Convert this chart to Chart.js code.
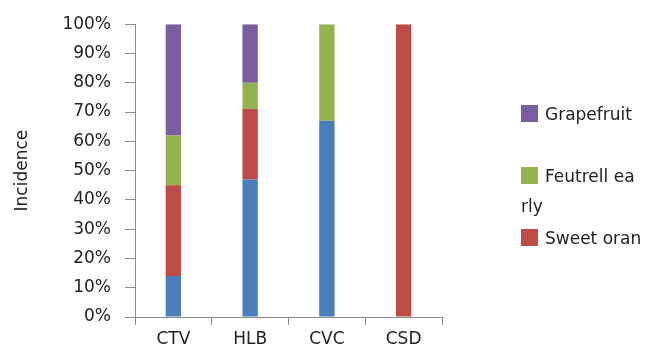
<!DOCTYPE html>
<html>
<head>
<meta charset="utf-8">
<script src="https://cdn.jsdelivr.net/npm/chart.js@4"></script>
<style>
  html, body { margin: 0; padding: 0; background: #fff; overflow: hidden; }
  #wrap { position: relative; width: 662px; height: 354px; }
  .leg { position: absolute; left: 521px; font: 17px "DejaVu Sans", sans-serif; color: #222; line-height: 30px; white-space: nowrap; }
  .leg i { display: inline-block; width: 17px; height: 17px; vertical-align: -2px; margin-right: 7px; }
</style>
</head>
<body>
<div id="wrap">
  <canvas id="chart" width="662" height="354"></canvas>
  <div id="legend"></div>
</div>
<script>
// 病害類別
const categories = ['CTV', 'HLB', 'CVC', 'CSD'];
// 各品種比例 (%)
const blueValues = [14, 47, 67, 0];
const sweetOrangeValues = [31, 24, 0, 100];
const feutrellValues = [17, 9, 33, 0];
const grapefruitValues = [38, 20, 0, 0];
const yTicks = ['0%', '10%', '20%', '30%', '40%', '50%', '60%', '70%', '80%', '90%', '100%'];

const datasets = [
    { label: 'Mandarin', data: blueValues, backgroundColor: '#4a7ebb' },
    { label: 'Sweet oran', data: sweetOrangeValues, backgroundColor: '#be4b48' },
    { label: 'Feutrell early', data: feutrellValues, backgroundColor: '#93b34f' },
    { label: 'Grapefruit', data: grapefruitValues, backgroundColor: '#7a5ca0' }
];

const font = { family: '"DejaVu Sans", sans-serif', size: 17 };

new Chart(document.getElementById('chart'), {
    type: 'bar',
    data: {
        labels: categories,
        datasets: datasets.map(d => ({
            label: d.label,
            data: d.data,
            backgroundColor: d.backgroundColor,
            borderWidth: 0,
            categoryPercentage: 1,
            barPercentage: 0.2
        }))
    },
    options: {
        responsive: false,
        animation: false,
        layout: { padding: { left: 6, right: 220, top: 14, bottom: 0 } },
        plugins: {
            legend: { display: false },
            tooltip: { enabled: false }
        },
        scales: {
            x: {
                stacked: true,
                grid: { drawOnChartArea: false, drawTicks: true, tickLength: 8, color: '#8c8c8c', offset: true },
                border: { color: '#8c8c8c', width: 1 },
                ticks: { color: '#222', font: font, padding: 4 },
                afterFit: s => { s.height = 37; }
            },
            y: {
                stacked: true,
                min: 0,
                max: 100,
                grid: { drawOnChartArea: false, drawTicks: true, tickLength: 10, color: '#8c8c8c' },
                border: { color: '#8c8c8c', width: 1 },
                ticks: {
                    stepSize: 10,
                    color: '#222',
                    font: font,
                    padding: 14,
                    callback: (v, i) => yTicks[i]
                },
                title: { display: true, text: 'Incidence', color: '#222', font: font, padding: { top: 6, bottom: 4 } },
                afterFit: s => { s.width = 129; }
            }
        }
    }
});

// 右側圖例 (藍色項目被裁掉)
const legendItems = [
    { text: 'Grapefruit', color: '#7a5ca0', top: 99 },
    { text: 'Feutrell ea<br>rly', color: '#93b34f', top: 161 },
    { text: 'Sweet oran', color: '#be4b48', top: 223 }
];
legendItems.forEach(item => {
    const el = document.createElement('div');
    el.className = 'leg';
    el.style.top = item.top + 'px';
    el.innerHTML = `<i style="background:${item.color}"></i>${item.text}`;
    document.getElementById('legend').appendChild(el);
});
</script>
</body>
</html>
